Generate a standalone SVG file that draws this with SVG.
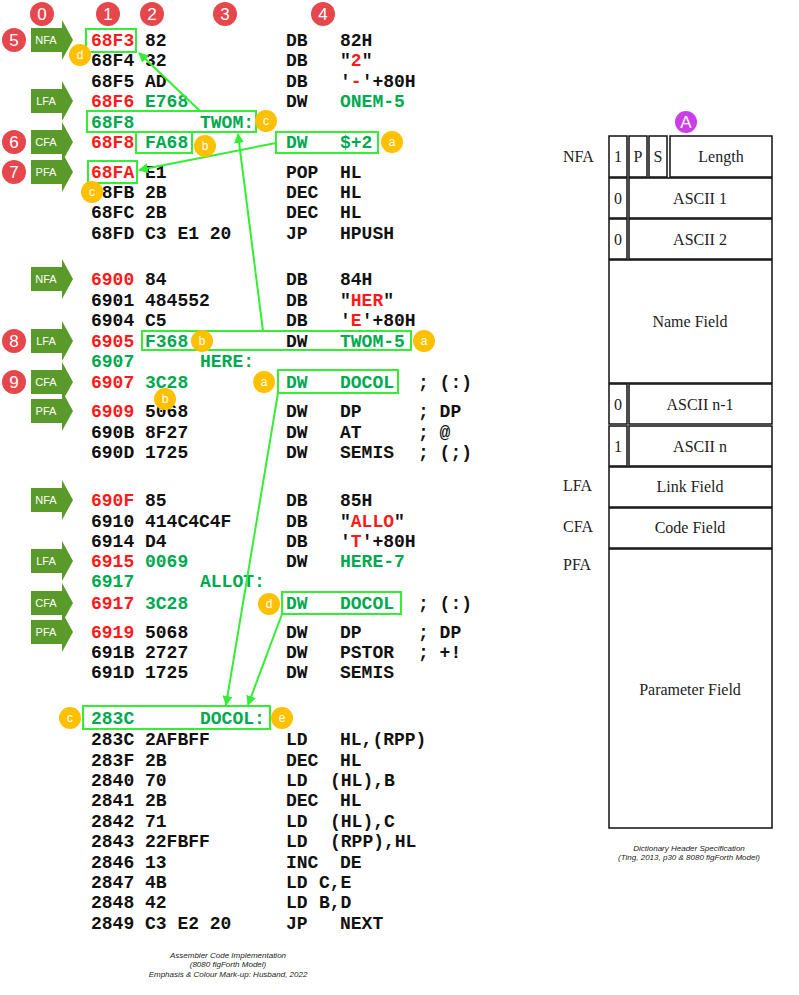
<svg xmlns="http://www.w3.org/2000/svg" width="799" height="995" viewBox="0 0 799 995">
<style>
.m{font-family:"Liberation Mono",monospace;font-size:18px;font-weight:bold;fill:#111}
.r{fill:#ff1a1a}.g{fill:#00a94f}
.tg{fill:#5a9a2a}.tt{font-family:"Liberation Sans",sans-serif;font-size:11px;fill:#fff;text-anchor:middle}
.rc{fill:#e6474c}.rt{font-family:"Liberation Sans",sans-serif;font-size:17px;fill:#fff;text-anchor:middle}
.yc{fill:#ffc000}.yt{font-family:"Liberation Sans",sans-serif;font-size:12px;fill:#fff;text-anchor:middle}
.bx{fill:none;stroke:#33ee33;stroke-width:2}
.cn{stroke:#33ee33;stroke-width:2;fill:none;marker-end:url(#ah)}
.cell{fill:#fff;stroke:#111;stroke-width:1.5}
.s{font-family:"Liberation Serif",serif;font-size:16px;fill:#222;text-anchor:middle}
.sl{font-family:"Liberation Serif",serif;font-size:16px;fill:#222}
.cap{font-family:"Liberation Sans Narrow","Liberation Sans",sans-serif;font-size:8px;font-style:italic;fill:#222;text-anchor:middle}
</style>
<defs>
<marker id="ah" viewBox="0 0 10 10" refX="9" refY="5" markerWidth="5" markerHeight="5" orient="auto"><path d="M0,0L10,5L0,10Z" fill="#33ee33"/></marker>
<path id="tag" d="M31,-12H62V-20L73,0L62,20V12H31Z"/>
</defs>

<g id="tags">
<use href="#tag" class="tg" y="40"/><text class="tt" x="46" y="44">NFA</text>
<use href="#tag" class="tg" y="101"/><text class="tt" x="46" y="105">LFA</text>
<use href="#tag" class="tg" y="142"/><text class="tt" x="46" y="146">CFA</text>
<use href="#tag" class="tg" y="172"/><text class="tt" x="46" y="176">PFA</text>
<use href="#tag" class="tg" y="279"/><text class="tt" x="46" y="283">NFA</text>
<use href="#tag" class="tg" y="341"/><text class="tt" x="46" y="345">LFA</text>
<use href="#tag" class="tg" y="382"/><text class="tt" x="46" y="386">CFA</text>
<use href="#tag" class="tg" y="411"/><text class="tt" x="46" y="415">PFA</text>
<use href="#tag" class="tg" y="500"/><text class="tt" x="46" y="504">NFA</text>
<use href="#tag" class="tg" y="561"/><text class="tt" x="46" y="565">LFA</text>
<use href="#tag" class="tg" y="603"/><text class="tt" x="46" y="607">CFA</text>
<use href="#tag" class="tg" y="632"/><text class="tt" x="46" y="636">PFA</text>
</g>

<g id="code">
<text class="m" y="46"><tspan x="91" class="r">68F3</tspan><tspan x="145">82</tspan><tspan x="286">DB</tspan><tspan x="340">82H</tspan></text>
<text class="m" y="66"><tspan x="91">68F4</tspan><tspan x="145">32</tspan><tspan x="286">DB</tspan><tspan x="340">"<tspan class="r">2</tspan>"</tspan></text>
<text class="m" y="87"><tspan x="91">68F5</tspan><tspan x="145">AD</tspan><tspan x="286">DB</tspan><tspan x="340">'<tspan class="r">-</tspan>'+80H</tspan></text>
<text class="m" y="107"><tspan x="91" class="r">68F6</tspan><tspan x="145" class="g">E768</tspan><tspan x="286">DW</tspan><tspan x="340" class="g">ONEM-5</tspan></text>
<text class="m g" y="128"><tspan x="91">68F8</tspan><tspan x="200">TWOM:</tspan></text>
<text class="m" y="148"><tspan x="91" class="r">68F8</tspan><tspan x="145" class="g">FA68</tspan><tspan x="286" class="g">DW</tspan><tspan x="340" class="g">$+2</tspan></text>
<text class="m" y="178"><tspan x="91" class="r">68FA</tspan><tspan x="145">E1</tspan><tspan x="286">POP</tspan><tspan x="340">HL</tspan></text>
<text class="m" y="198"><tspan x="91">68FB</tspan><tspan x="145">2B</tspan><tspan x="286">DEC</tspan><tspan x="340">HL</tspan></text>
<text class="m" y="218"><tspan x="91">68FC</tspan><tspan x="145">2B</tspan><tspan x="286">DEC</tspan><tspan x="340">HL</tspan></text>
<text class="m" y="239"><tspan x="91">68FD</tspan><tspan x="145">C3 E1 20</tspan><tspan x="286">JP</tspan><tspan x="340">HPUSH</tspan></text>

<text class="m" y="285"><tspan x="91" class="r">6900</tspan><tspan x="145">84</tspan><tspan x="286">DB</tspan><tspan x="340">84H</tspan></text>
<text class="m" y="306"><tspan x="91">6901</tspan><tspan x="145">484552</tspan><tspan x="286">DB</tspan><tspan x="340">"<tspan class="r">HER</tspan>"</tspan></text>
<text class="m" y="326"><tspan x="91">6904</tspan><tspan x="145">C5</tspan><tspan x="286">DB</tspan><tspan x="340">'<tspan class="r">E</tspan>'+80H</tspan></text>
<text class="m" y="347"><tspan x="91" class="r">6905</tspan><tspan x="145" class="g">F368</tspan><tspan x="286">DW</tspan><tspan x="340" class="g">TWOM-5</tspan></text>
<text class="m g" y="367"><tspan x="91">6907</tspan><tspan x="200">HERE:</tspan></text>
<text class="m" y="388"><tspan x="91" class="r">6907</tspan><tspan x="145" class="g">3C28</tspan><tspan x="286" class="g">DW</tspan><tspan x="340" class="g">DOCOL</tspan><tspan x="418">; (:)</tspan></text>
<text class="m" y="417"><tspan x="91" class="r">6909</tspan><tspan x="145">5068</tspan><tspan x="286">DW</tspan><tspan x="340">DP</tspan><tspan x="418">; DP</tspan></text>
<text class="m" y="438"><tspan x="91">690B</tspan><tspan x="145">8F27</tspan><tspan x="286">DW</tspan><tspan x="340">AT</tspan><tspan x="418">; @</tspan></text>
<text class="m" y="458"><tspan x="91">690D</tspan><tspan x="145">1725</tspan><tspan x="286">DW</tspan><tspan x="340">SEMIS</tspan><tspan x="418">; (;)</tspan></text>

<text class="m" y="506"><tspan x="91" class="r">690F</tspan><tspan x="145">85</tspan><tspan x="286">DB</tspan><tspan x="340">85H</tspan></text>
<text class="m" y="527"><tspan x="91">6910</tspan><tspan x="145">414C4C4F</tspan><tspan x="286">DB</tspan><tspan x="340">"<tspan class="r">ALLO</tspan>"</tspan></text>
<text class="m" y="547"><tspan x="91">6914</tspan><tspan x="145">D4</tspan><tspan x="286">DB</tspan><tspan x="340">'<tspan class="r">T</tspan>'+80H</tspan></text>
<text class="m" y="567"><tspan x="91" class="r">6915</tspan><tspan x="145" class="g">0069</tspan><tspan x="286">DW</tspan><tspan x="340" class="g">HERE-7</tspan></text>
<text class="m g" y="587"><tspan x="91">6917</tspan><tspan x="200">ALLOT:</tspan></text>
<text class="m" y="609"><tspan x="91" class="r">6917</tspan><tspan x="145" class="g">3C28</tspan><tspan x="286" class="g">DW</tspan><tspan x="340" class="g">DOCOL</tspan><tspan x="418">; (:)</tspan></text>
<text class="m" y="638"><tspan x="91" class="r">6919</tspan><tspan x="145">5068</tspan><tspan x="286">DW</tspan><tspan x="340">DP</tspan><tspan x="418">; DP</tspan></text>
<text class="m" y="658"><tspan x="91">691B</tspan><tspan x="145">2727</tspan><tspan x="286">DW</tspan><tspan x="340">PSTOR</tspan><tspan x="418">; +!</tspan></text>
<text class="m" y="678"><tspan x="91">691D</tspan><tspan x="145">1725</tspan><tspan x="286">DW</tspan><tspan x="340">SEMIS</tspan></text>

<text class="m g" y="724"><tspan x="91">283C</tspan><tspan x="200">DOCOL:</tspan></text>
<text class="m" y="745"><tspan x="91">283C</tspan><tspan x="145">2AFBFF</tspan><tspan x="286">LD</tspan><tspan x="340">HL,(RPP)</tspan></text>
<text class="m" y="766"><tspan x="91">283F</tspan><tspan x="145">2B</tspan><tspan x="286">DEC</tspan><tspan x="340">HL</tspan></text>
<text class="m" y="786"><tspan x="91">2840</tspan><tspan x="145">70</tspan><tspan x="286">LD</tspan><tspan x="330">(HL),B</tspan></text>
<text class="m" y="806"><tspan x="91">2841</tspan><tspan x="145">2B</tspan><tspan x="286">DEC</tspan><tspan x="340">HL</tspan></text>
<text class="m" y="827"><tspan x="91">2842</tspan><tspan x="145">71</tspan><tspan x="286">LD</tspan><tspan x="330">(HL),C</tspan></text>
<text class="m" y="847"><tspan x="91">2843</tspan><tspan x="145">22FBFF</tspan><tspan x="286">LD</tspan><tspan x="330">(RPP),HL</tspan></text>
<text class="m" y="868"><tspan x="91">2846</tspan><tspan x="145">13</tspan><tspan x="286">INC</tspan><tspan x="340">DE</tspan></text>
<text class="m" y="888"><tspan x="91">2847</tspan><tspan x="145">4B</tspan><tspan x="286">LD</tspan><tspan x="319">C,E</tspan></text>
<text class="m" y="908"><tspan x="91">2848</tspan><tspan x="145">42</tspan><tspan x="286">LD</tspan><tspan x="319">B,D</tspan></text>
<text class="m" y="929"><tspan x="91">2849</tspan><tspan x="145">C3 E2 20</tspan><tspan x="286">JP</tspan><tspan x="340">NEXT</tspan></text>
</g>

<g id="boxes">
<rect class="bx" x="86" y="29" width="50" height="23"/>
<rect class="bx" x="87" y="111" width="169" height="21"/>
<rect class="bx" x="136" y="132" width="56" height="21"/>
<rect class="bx" x="276" y="132" width="102" height="21"/>
<rect class="bx" x="88" y="161" width="49" height="22"/>
<rect class="bx" x="142" y="331" width="269" height="19"/>
<rect class="bx" x="278" y="370" width="120" height="23"/>
<rect class="bx" x="282" y="592" width="119" height="22"/>
<rect class="bx" x="83" y="706" width="187" height="23"/>
</g>

<g id="connectors">
<line class="cn" x1="200" y1="111" x2="139" y2="53"/>
<line class="cn" x1="276" y1="143" x2="139" y2="170"/>
<line class="cn" x1="263" y1="331" x2="238" y2="134"/>
<line class="cn" x1="278" y1="393" x2="226" y2="705"/>
<line class="cn" x1="282" y1="614" x2="248" y2="705"/>
</g>

<g id="markers">
<circle class="rc" cx="42" cy="14" r="12"/><text class="rt" x="42" y="20">0</text>
<circle class="rc" cx="108" cy="14" r="12"/><text class="rt" x="108" y="20">1</text>
<circle class="rc" cx="152" cy="14" r="12"/><text class="rt" x="152" y="20">2</text>
<circle class="rc" cx="225" cy="14" r="12"/><text class="rt" x="225" y="20">3</text>
<circle class="rc" cx="323" cy="14" r="12"/><text class="rt" x="323" y="20">4</text>
<circle class="rc" cx="14" cy="40" r="12"/><text class="rt" x="14" y="46">5</text>
<circle class="rc" cx="14" cy="142" r="12"/><text class="rt" x="14" y="148">6</text>
<circle class="rc" cx="14" cy="172" r="12"/><text class="rt" x="14" y="178">7</text>
<circle class="rc" cx="14" cy="341" r="12"/><text class="rt" x="14" y="347">8</text>
<circle class="rc" cx="14" cy="382" r="12"/><text class="rt" x="14" y="388">9</text>

<circle class="yc" cx="80" cy="55" r="11"/><text class="yt" x="80" y="59">d</text>
<circle class="yc" cx="266" cy="121" r="11"/><text class="yt" x="266" y="125">c</text>
<circle class="yc" cx="205" cy="146" r="11"/><text class="yt" x="205" y="150">b</text>
<circle class="yc" cx="392" cy="142" r="11"/><text class="yt" x="392" y="146">a</text>
<circle class="yc" cx="92" cy="192" r="11"/><text class="yt" x="92" y="196">c</text>
<circle class="yc" cx="202" cy="341" r="11"/><text class="yt" x="202" y="345">b</text>
<circle class="yc" cx="424" cy="341" r="11"/><text class="yt" x="424" y="345">a</text>
<circle class="yc" cx="264" cy="382" r="11"/><text class="yt" x="264" y="386">a</text>
<circle class="yc" cx="165" cy="399" r="11"/><text class="yt" x="165" y="403">b</text>
<circle class="yc" cx="269" cy="604" r="11"/><text class="yt" x="269" y="608">d</text>
<circle class="yc" cx="70" cy="718" r="11"/><text class="yt" x="70" y="722">c</text>
<circle class="yc" cx="282" cy="718" r="11"/><text class="yt" x="282" y="722">e</text>

<circle cx="686" cy="122" r="11" fill="#cc3de8"/><text class="rt" x="686" y="128">A</text>
</g>

<g id="header-spec">
<text class="sl" x="563" y="162">NFA</text>
<rect class="cell" x="609" y="136" width="18" height="41"/><text class="s" x="618" y="162">1</text>
<rect class="cell" x="629" y="136" width="18" height="41"/><text class="s" x="638" y="162">P</text>
<rect class="cell" x="649" y="136" width="18" height="41"/><text class="s" x="658" y="162">S</text>
<rect class="cell" x="670" y="136" width="102" height="41"/><text class="s" x="721" y="162">Length</text>
<rect class="cell" x="609" y="178" width="18" height="40"/><text class="s" x="618" y="204">0</text>
<rect class="cell" x="629" y="178" width="143" height="40"/><text class="s" x="700" y="204">ASCII 1</text>
<rect class="cell" x="609" y="219" width="18" height="40"/><text class="s" x="618" y="245">0</text>
<rect class="cell" x="629" y="219" width="143" height="40"/><text class="s" x="700" y="245">ASCII 2</text>
<rect class="cell" x="609" y="260" width="163" height="123"/><text class="s" x="690" y="327">Name Field</text>
<rect class="cell" x="609" y="384" width="18" height="40"/><text class="s" x="618" y="410">0</text>
<rect class="cell" x="629" y="384" width="143" height="40"/><text class="s" x="700" y="410">ASCII n-1</text>
<rect class="cell" x="609" y="426" width="18" height="40"/><text class="s" x="618" y="452">1</text>
<rect class="cell" x="629" y="426" width="143" height="40"/><text class="s" x="700" y="452">ASCII n</text>
<text class="sl" x="563" y="491">LFA</text>
<rect class="cell" x="609" y="467" width="163" height="40"/><text class="s" x="690" y="492">Link Field</text>
<text class="sl" x="563" y="532">CFA</text>
<rect class="cell" x="609" y="508" width="163" height="40"/><text class="s" x="690" y="533">Code Field</text>
<text class="sl" x="563" y="570">PFA</text>
<rect class="cell" x="609" y="549" width="163" height="279"/><text class="s" x="690" y="695">Parameter Field</text>
</g>

<g id="captions">
<text class="cap" x="689" y="851">Dictionary Header Specification</text>
<text class="cap" x="689" y="860">(Ting, 2013, p30 &amp; 8080 figForth Model)</text>
<text class="cap" x="228" y="958">Assembler Code Implementation</text>
<text class="cap" x="228" y="967">(8080 figForth Model)</text>
<text class="cap" x="228" y="977">Emphasis &amp; Colour Mark-up: Husband, 2022</text>
</g>
</svg>
